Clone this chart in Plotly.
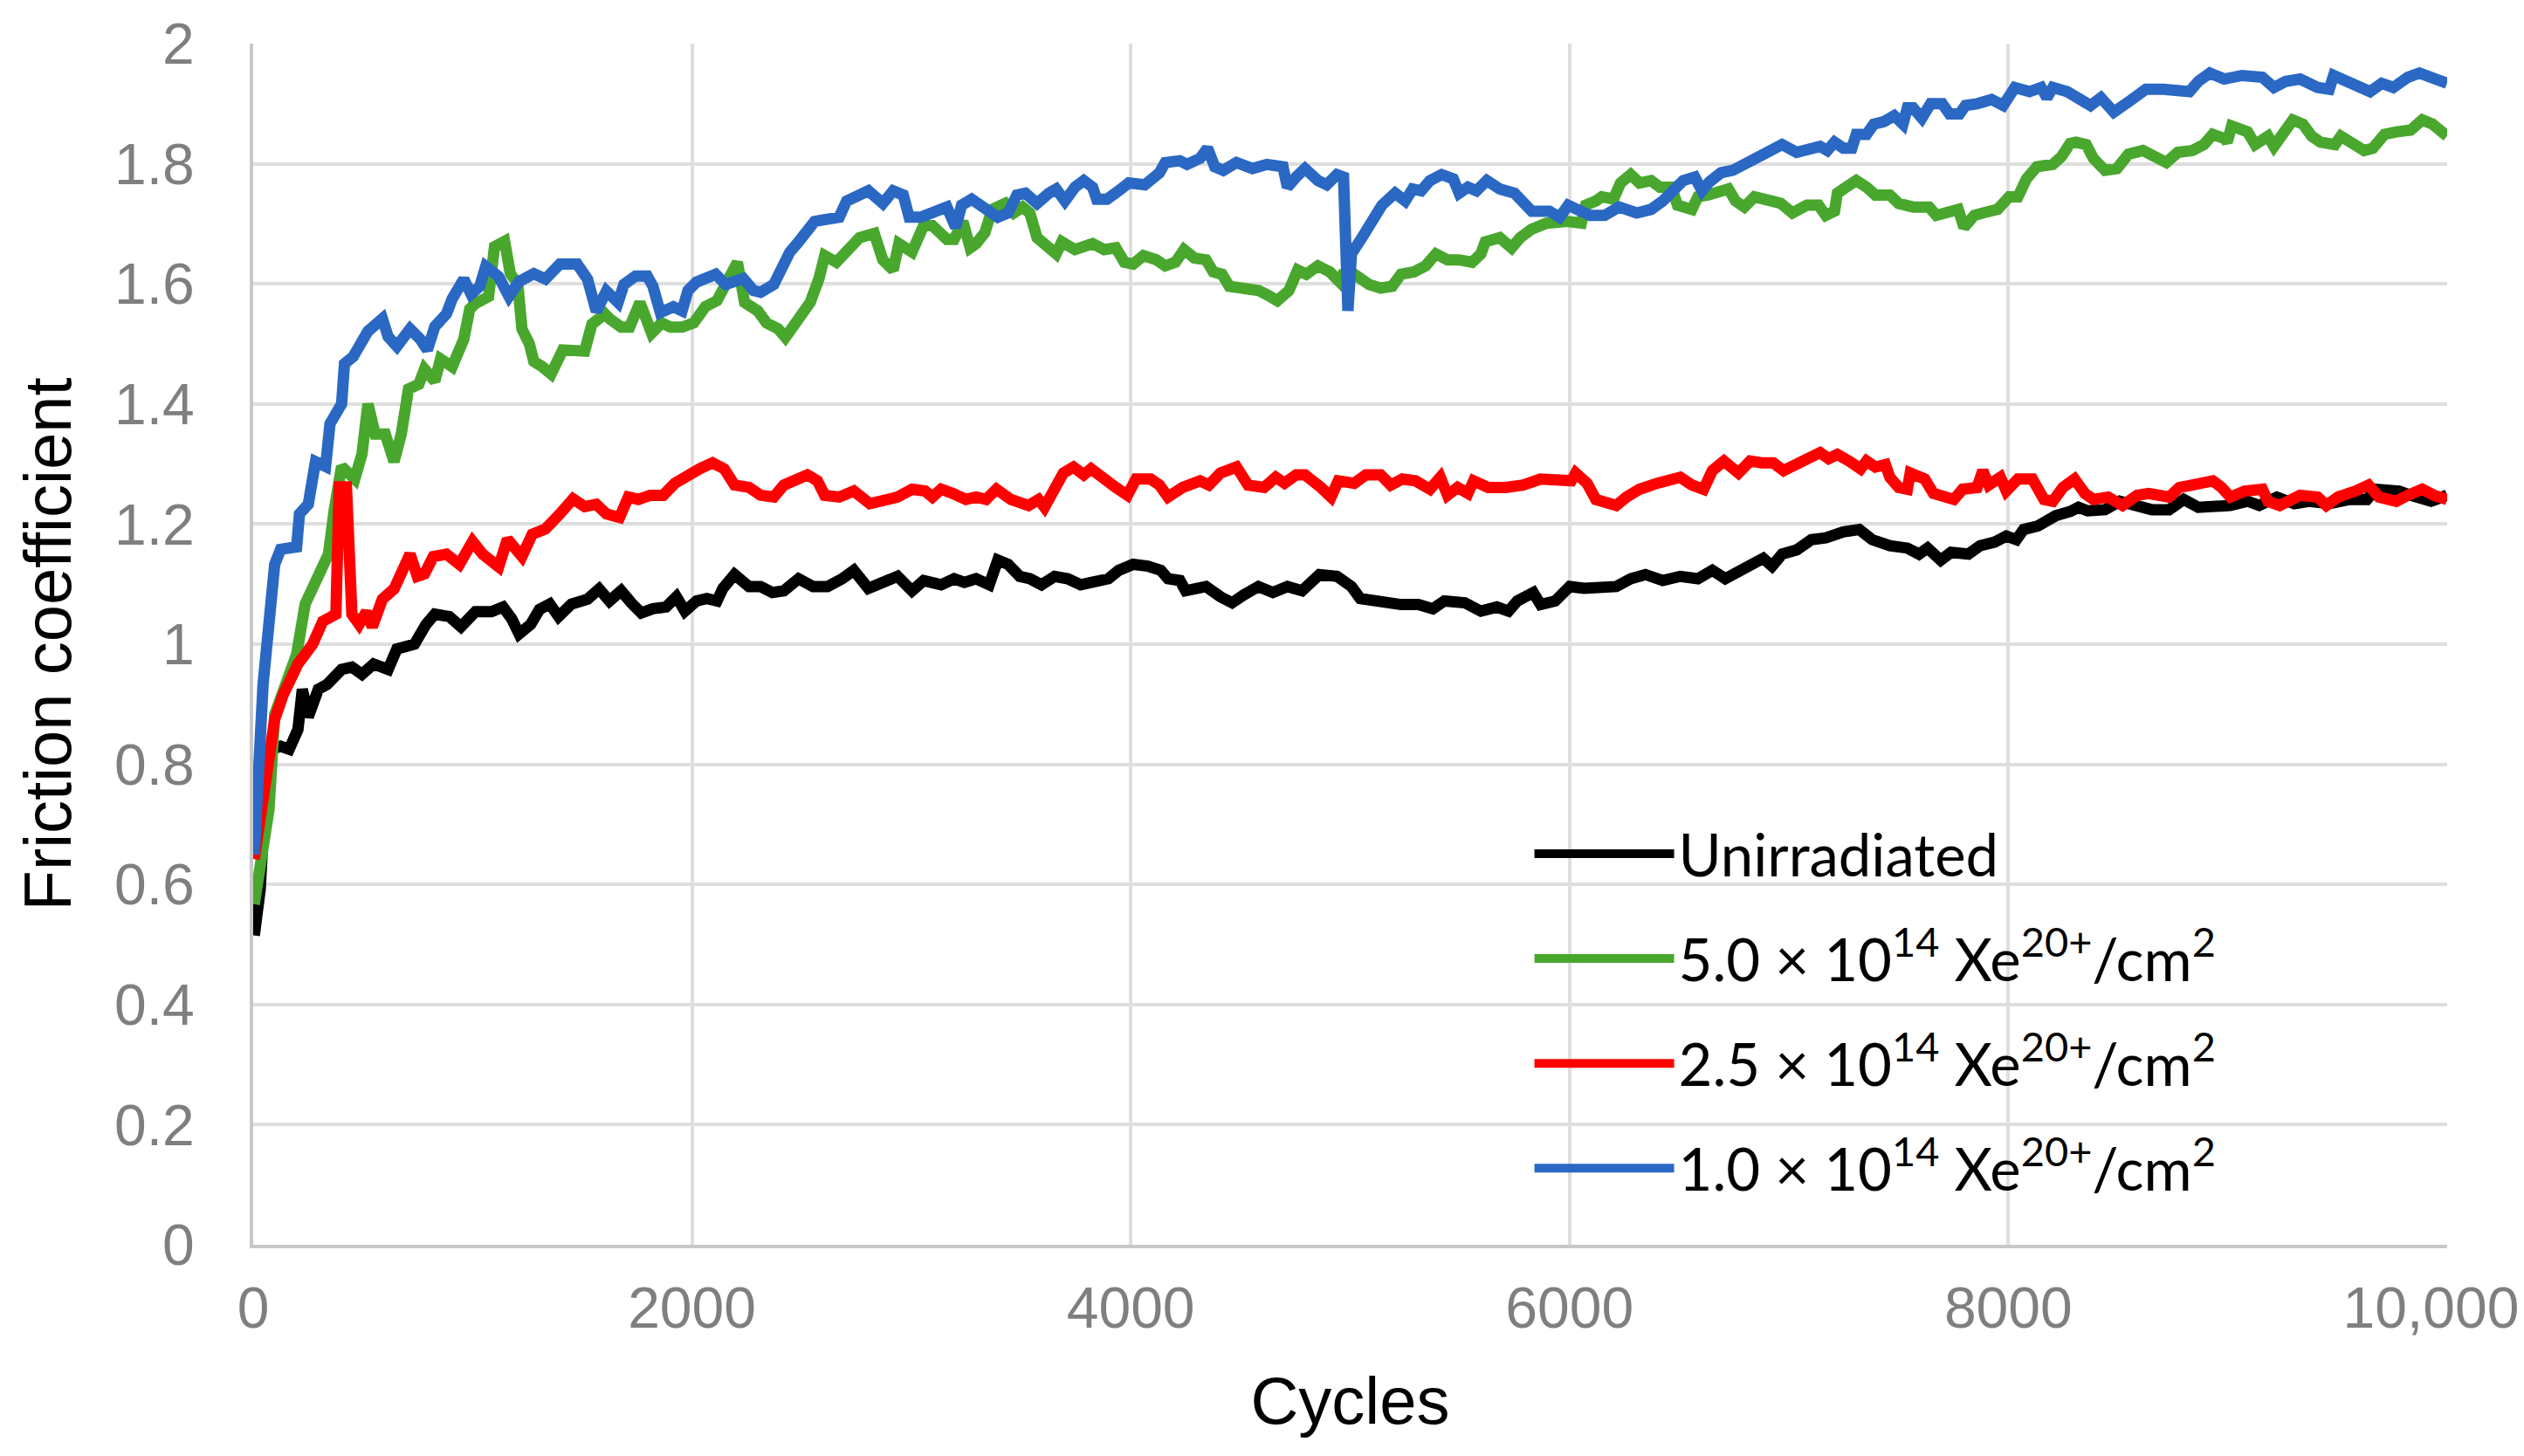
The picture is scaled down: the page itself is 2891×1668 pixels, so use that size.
import plotly.graph_objects as go

# ---------------- data ----------------
cyc_unirr = [5, 32, 58, 85, 125, 164, 204, 224, 251, 297, 337, 403, 450, 496, 549, 615, 655, 735, 788, 828,
             894, 947, 1013, 1086, 1139, 1179, 1212, 1265, 1305, 1352, 1392, 1451, 1524, 1577, 1624, 1677,
             1723, 1769, 1822, 1882, 1929, 1968, 2021, 2068, 2114, 2141, 2194, 2260, 2313, 2366, 2419, 2486,
             2552, 2618, 2685, 2738, 2804, 2857, 2937, 3003, 3056, 3136, 3195, 3242, 3295, 3355, 3394, 3441,
             3494, 3540, 3593, 3653, 3713, 3772, 3839, 3898, 3945, 4011, 4078, 4137, 4170, 4224, 4250, 4343,
             4409, 4462, 4515, 4582, 4648, 4714, 4781, 4860, 4940, 5006, 5046, 5099, 5165, 5232, 5311, 5377,
             5430, 5523, 5596, 5669, 5722, 5762, 5835, 5868, 5935, 6001, 6067, 6134, 6213, 6279, 6346, 6425,
             6505, 6585, 6651, 6710, 6770, 6836, 6883, 6923, 6969, 7035, 7102, 7168, 7248, 7321, 7380, 7460,
             7540, 7593, 7632, 7692, 7739, 7818, 7871, 7937, 7991, 8037, 8070, 8136, 8216, 8282, 8320, 8362,
             8441, 8508, 8587, 8654, 8733, 8800, 8866, 8945, 9012, 9091, 9144, 9224, 9304, 9370, 9463, 9556,
             9635, 9675, 9781, 9834, 9927, 10000]
mu_unirr = [0.515, 0.592, 0.767, 0.825, 0.83, 0.825, 0.858, 0.925, 0.879, 0.925, 0.933, 0.958, 0.962, 0.95,
            0.967, 0.958, 0.992, 1.0, 1.033, 1.05, 1.046, 1.029, 1.054, 1.054, 1.062, 1.042, 1.017, 1.033,
            1.058, 1.067, 1.046, 1.067, 1.075, 1.092, 1.072, 1.089, 1.069, 1.052, 1.059, 1.062, 1.079, 1.055,
            1.072, 1.076, 1.072, 1.093, 1.116, 1.096, 1.096, 1.086, 1.089, 1.109, 1.096, 1.096, 1.109, 1.123,
            1.093, 1.103, 1.113, 1.089, 1.106, 1.099, 1.109, 1.103, 1.109, 1.099, 1.140, 1.133, 1.113, 1.109,
            1.099, 1.113, 1.109, 1.099, 1.106, 1.109, 1.123, 1.133, 1.130, 1.123, 1.109, 1.106, 1.089, 1.096,
            1.079, 1.069, 1.082, 1.096, 1.086, 1.096, 1.089, 1.116, 1.113, 1.096, 1.076, 1.072, 1.069, 1.066,
            1.066, 1.059, 1.072, 1.069, 1.055, 1.062, 1.055, 1.072, 1.086, 1.066, 1.072, 1.096, 1.093, 1.096,
            1.096, 1.109, 1.116, 1.106, 1.113, 1.109, 1.123, 1.109, 1.120, 1.133, 1.143, 1.130, 1.150, 1.157,
            1.174, 1.177, 1.187, 1.191, 1.174, 1.164, 1.160, 1.150, 1.160, 1.140, 1.153, 1.150, 1.164, 1.170,
            1.180, 1.174, 1.191, 1.197, 1.214, 1.221, 1.228, 1.222, 1.224, 1.238, 1.231, 1.224, 1.224, 1.241,
            1.228, 1.228, 1.231, 1.238, 1.231, 1.245, 1.234, 1.238, 1.234, 1.241, 1.241, 1.258, 1.255, 1.248,
            1.238, 1.248]

cyc_50 = [5, 72, 98, 151, 198, 237, 284, 343, 370, 403, 463, 496, 523, 556, 602, 642, 675, 708, 755, 781,
          828, 854, 907, 960, 987, 1013, 1073, 1100, 1146, 1172, 1206, 1225, 1259, 1279, 1318, 1358, 1411,
          1451, 1511, 1544, 1603, 1624, 1677, 1716, 1763, 1816, 1862, 1902, 1955, 2008, 2061, 2114, 2154,
          2207, 2240, 2300, 2340, 2393, 2426, 2472, 2539, 2579, 2605, 2658, 2711, 2764, 2831, 2870, 2917,
          2943, 3003, 3056, 3096, 3162, 3195, 3235, 3268, 3295, 3335, 3368, 3428, 3467, 3507, 3540, 3573,
          3613, 3660, 3686, 3746, 3826, 3879, 3932, 3971, 4011, 4058, 4117, 4157, 4204, 4243, 4290, 4343,
          4376, 4416, 4449, 4515, 4582, 4621, 4668, 4721, 4761, 4800, 4853, 4907, 4953, 4966, 5019, 5086,
          5139, 5192, 5232, 5291, 5344, 5391, 5444, 5497, 5556, 5596, 5616, 5682, 5736, 5775, 5828, 5895,
          5988, 6054, 6074, 6120, 6147, 6200, 6233, 6279, 6319, 6372, 6412, 6465, 6492, 6558, 6585, 6631,
          6677, 6724, 6757, 6797, 6843, 6916, 6963, 7016, 7082, 7135, 7168, 7208, 7221, 7261, 7307, 7354,
          7394, 7460, 7500, 7566, 7639, 7672, 7725, 7772, 7798, 7845, 7884, 7951, 8004, 8044, 8083, 8130,
          8203, 8243, 8282, 8309, 8355, 8388, 8441, 8495, 8548, 8614, 8667, 8720, 8773, 8839, 8892, 8932,
          8985, 8998, 9018, 9065, 9091, 9125, 9184, 9211, 9251, 9297, 9343, 9383, 9423, 9489, 9516, 9569,
          9622, 9662, 9715, 9768, 9834, 9887, 9934, 10000]
mu_50 = [0.567, 0.725, 0.883, 0.942, 0.983, 1.067, 1.1, 1.15, 1.225, 1.296, 1.275, 1.317, 1.4, 1.35, 1.35,
         1.304, 1.35, 1.425, 1.433, 1.458, 1.438, 1.475, 1.462, 1.508, 1.558, 1.567, 1.579, 1.662, 1.671,
         1.617, 1.6, 1.525, 1.5, 1.471, 1.462, 1.45, 1.49, 1.49, 1.488, 1.533, 1.55, 1.542, 1.528, 1.528,
         1.569, 1.518, 1.535, 1.528, 1.528, 1.535, 1.562, 1.572, 1.599, 1.636, 1.569, 1.555, 1.535, 1.525,
         1.511, 1.532, 1.569, 1.609, 1.647, 1.636, 1.660, 1.677, 1.684, 1.640, 1.623, 1.667, 1.653, 1.697,
         1.697, 1.674, 1.674, 1.704, 1.660, 1.667, 1.685, 1.724, 1.734, 1.718, 1.728, 1.718, 1.677, 1.667,
         1.650, 1.670, 1.657, 1.667, 1.657, 1.660, 1.636, 1.633, 1.647, 1.640, 1.630, 1.636, 1.657, 1.643,
         1.640, 1.620, 1.616, 1.596, 1.593, 1.589, 1.582, 1.572, 1.589, 1.623, 1.616, 1.630, 1.620, 1.603,
         1.615, 1.616, 1.599, 1.593, 1.596, 1.616, 1.620, 1.630, 1.650, 1.640, 1.640, 1.636, 1.650, 1.670,
         1.677, 1.660, 1.677, 1.691, 1.701, 1.704, 1.701, 1.731, 1.738, 1.745, 1.741, 1.768, 1.782, 1.768,
         1.772, 1.761, 1.761, 1.731, 1.724, 1.745, 1.748, 1.755, 1.758, 1.738, 1.728, 1.745, 1.738, 1.734,
         1.718, 1.731, 1.731, 1.714, 1.721, 1.751, 1.761, 1.772, 1.761, 1.748, 1.748, 1.734, 1.728, 1.728,
         1.714, 1.718, 1.724, 1.694, 1.714, 1.718, 1.724, 1.745, 1.745, 1.775, 1.795, 1.799, 1.812, 1.834,
         1.836, 1.832, 1.809, 1.789, 1.792, 1.816, 1.822, 1.812, 1.802, 1.819, 1.822, 1.832, 1.849, 1.842,
         1.836, 1.863, 1.856, 1.853, 1.832, 1.846, 1.829, 1.853, 1.873, 1.866, 1.846, 1.836, 1.832, 1.846,
         1.836, 1.822, 1.826, 1.849, 1.853, 1.856, 1.873, 1.866, 1.846]

cyc_25 = [5, 52, 98, 138, 204, 271, 317, 377, 392, 425, 450, 483, 516, 543, 589, 642, 682, 715, 748, 781,
          821, 881, 940, 1000, 1046, 1119, 1159, 1225, 1272, 1332, 1398, 1458, 1511, 1564, 1610, 1670, 1710,
          1756, 1809, 1869, 1922, 1982, 2035, 2094, 2147, 2194, 2260, 2313, 2373, 2419, 2472, 2526, 2572,
          2605, 2671, 2738, 2811, 2877, 2937, 3003, 3063, 3096, 3136, 3189, 3249, 3295, 3341, 3388, 3454,
          3534, 3580, 3607, 3653, 3693, 3739, 3786, 3819, 3865, 3932, 3985, 4024, 4091, 4131, 4170, 4237,
          4316, 4356, 4409, 4482, 4535, 4608, 4661, 4701, 4754, 4794, 4867, 4913, 4946, 5019, 5072, 5139,
          5185, 5238, 5298, 5364, 5411, 5444, 5490, 5537, 5563, 5629, 5709, 5789, 5868, 5948, 6008, 6028,
          6080, 6120, 6167, 6213, 6260, 6319, 6399, 6452, 6505, 6558, 6611, 6651, 6704, 6770, 6823, 6876,
          6929, 6976, 7035, 7089, 7142, 7181, 7221, 7274, 7327, 7354, 7394, 7440, 7460, 7500, 7540, 7553,
          7619, 7659, 7699, 7752, 7792, 7858, 7884, 7911, 7964, 7991, 8044, 8110, 8163, 8203, 8249, 8302,
          8349, 8388, 8455, 8521, 8587, 8640, 8733, 8780, 8839, 8932, 8972, 9012, 9078, 9158, 9184, 9237,
          9330, 9410, 9450, 9503, 9582, 9642, 9689, 9768, 9821, 9887, 9940, 10000]
mu_25 = [0.642, 0.754, 0.875, 0.917, 0.967, 1.0, 1.038, 1.05, 1.262, 1.262, 1.05, 1.033, 1.054, 1.029,
         1.075, 1.092, 1.121, 1.15, 1.113, 1.117, 1.146, 1.15, 1.133, 1.171, 1.15, 1.129, 1.175, 1.146,
         1.183, 1.192, 1.217, 1.242, 1.229, 1.233, 1.217, 1.211, 1.245, 1.241, 1.248, 1.248, 1.268, 1.278,
         1.292, 1.302, 1.292, 1.265, 1.261, 1.248, 1.245, 1.265, 1.275, 1.282, 1.272, 1.248, 1.245, 1.255,
         1.234, 1.238, 1.245, 1.258, 1.255, 1.245, 1.258, 1.251, 1.241, 1.245, 1.241, 1.258, 1.241, 1.231,
         1.241, 1.228, 1.258, 1.285, 1.295, 1.282, 1.292, 1.278, 1.261, 1.248, 1.275, 1.275, 1.265, 1.245,
         1.261, 1.272, 1.265, 1.285, 1.295, 1.265, 1.261, 1.278, 1.268, 1.282, 1.282, 1.261, 1.245, 1.272,
         1.268, 1.282, 1.282, 1.265, 1.275, 1.272, 1.258, 1.278, 1.248, 1.261, 1.251, 1.272, 1.261, 1.261,
         1.265, 1.275, 1.272, 1.272, 1.285, 1.268, 1.241, 1.238, 1.231, 1.245, 1.258, 1.268, 1.272, 1.278,
         1.265, 1.258, 1.289, 1.305, 1.285, 1.305, 1.302, 1.302, 1.289, 1.299, 1.305, 1.319, 1.309, 1.316,
         1.305, 1.292, 1.305, 1.295, 1.299, 1.278, 1.261, 1.258, 1.285, 1.275, 1.251, 1.245, 1.241, 1.258,
         1.261, 1.289, 1.265, 1.278, 1.255, 1.275, 1.275, 1.241, 1.238, 1.261, 1.275, 1.251, 1.241, 1.245,
         1.231, 1.248, 1.251, 1.245, 1.261, 1.265, 1.272, 1.261, 1.245, 1.255, 1.258, 1.238, 1.231, 1.248,
         1.245, 1.231, 1.245, 1.255, 1.265, 1.245, 1.238, 1.248, 1.258, 1.248, 1.241]

cyc_10 = [5, 45, 98, 125, 198, 211, 251, 284, 330, 350, 403, 416, 456, 523, 589, 615, 655, 715, 761, 794,
          828, 881, 907, 960, 993, 1033, 1060, 1119, 1166, 1212, 1279, 1332, 1398, 1477, 1524, 1564, 1610,
          1663, 1690, 1743, 1796, 1822, 1856, 1915, 1955, 1982, 2021, 2061, 2108, 2154, 2234, 2280, 2313,
          2373, 2406, 2446, 2486, 2539, 2559, 2605, 2671, 2705, 2751, 2804, 2870, 2917, 2963, 2990, 3043,
          3096, 3162, 3202, 3229, 3275, 3335, 3394, 3441, 3481, 3520, 3573, 3627, 3660, 3700, 3746, 3786,
          3826, 3845, 3892, 3945, 3991, 4064, 4131, 4157, 4224, 4257, 4316, 4350, 4383, 4422, 4482, 4555,
          4621, 4694, 4714, 4754, 4794, 4853, 4893, 4940, 4970, 4990, 5006, 5059, 5099, 5145, 5205, 5251,
          5285, 5324, 5364, 5417, 5470, 5497, 5537, 5576, 5623, 5682, 5749, 5802, 5828, 5908, 5955, 5994,
          6041, 6094, 6160, 6226, 6306, 6372, 6425, 6478, 6518, 6571, 6604, 6638, 6691, 6744, 6797, 6850,
          6903, 6969, 7035, 7089, 7142, 7175, 7208, 7248, 7287, 7307, 7354, 7387, 7433, 7480, 7520, 7540,
          7566, 7606, 7646, 7699, 7732, 7778, 7805, 7858, 7924, 7977, 8030, 8097, 8150, 8176, 8203, 8269,
          8309, 8375, 8422, 8481, 8548, 8627, 8707, 8786, 8826, 8866, 8919, 8985, 9065, 9158, 9211, 9264,
          9330, 9410, 9463, 9483, 9542, 9596, 9649, 9702, 9755, 9821, 9874, 9927, 10000]
mu_10 = [0.65, 0.933, 1.133, 1.158, 1.162, 1.217, 1.233, 1.304, 1.296, 1.367, 1.4, 1.467, 1.479, 1.521,
         1.542, 1.512, 1.496, 1.525, 1.508, 1.49, 1.529, 1.55, 1.575, 1.608, 1.583, 1.596, 1.629, 1.612,
         1.579, 1.604, 1.617, 1.608, 1.633, 1.633, 1.608, 1.554, 1.588, 1.569, 1.599, 1.613, 1.613, 1.596,
         1.552, 1.562, 1.555, 1.589, 1.603, 1.609, 1.616, 1.599, 1.609, 1.589, 1.586, 1.599, 1.626, 1.653,
         1.670, 1.691, 1.704, 1.707, 1.711, 1.738, 1.745, 1.755, 1.734, 1.755, 1.748, 1.711, 1.711, 1.718,
         1.728, 1.694, 1.731, 1.741, 1.724, 1.711, 1.718, 1.748, 1.751, 1.734, 1.751, 1.758, 1.738, 1.761,
         1.772, 1.761, 1.741, 1.741, 1.755, 1.768, 1.765, 1.785, 1.802, 1.805, 1.799, 1.809, 1.826, 1.795,
         1.789, 1.802, 1.792, 1.799, 1.795, 1.761, 1.778, 1.792, 1.772, 1.765, 1.782, 1.778, 1.555, 1.650,
         1.680, 1.701, 1.731, 1.751, 1.738, 1.758, 1.755, 1.772, 1.782, 1.775, 1.751, 1.761, 1.755, 1.772,
         1.758, 1.751, 1.731, 1.721, 1.721, 1.711, 1.731, 1.721, 1.714, 1.714, 1.728, 1.718, 1.724, 1.738,
         1.758, 1.772, 1.778, 1.755, 1.770, 1.785, 1.789, 1.799, 1.812, 1.819, 1.832, 1.819, 1.822, 1.829,
         1.822, 1.836, 1.826, 1.826, 1.849, 1.849, 1.866, 1.870, 1.880, 1.866, 1.893, 1.893, 1.876, 1.900,
         1.900, 1.883, 1.883, 1.897, 1.900, 1.907, 1.897, 1.927, 1.920, 1.927, 1.910, 1.927, 1.920, 1.912,
         1.897, 1.910, 1.886, 1.903, 1.924, 1.924, 1.924, 1.920, 1.937, 1.951, 1.941, 1.947, 1.944, 1.927,
         1.937, 1.941, 1.927, 1.924, 1.947, 1.937, 1.930, 1.920, 1.934, 1.927, 1.944, 1.951, 1.944, 1.934]

series_names = ["Unirradiated",
                "5.0 × 10<sup>14</sup> Xe<sup>20+</sup>/cm<sup>2</sup>",
                "2.5 × 10<sup>14</sup> Xe<sup>20+</sup>/cm<sup>2</sup>",
                "1.0 × 10<sup>14</sup> Xe<sup>20+</sup>/cm<sup>2</sup>"]
series_colors = ["#000000", "#49a72e", "#ff0000", "#2a68c4"]

x_tickvals = [0, 2000, 4000, 6000, 8000, 10000]
x_ticktext = ["0", "2000", "4000", "6000", "8000", "10,000\u00a0\u00a0"]

# ---------------- figure ----------------
fig = go.Figure()
all_x = [cyc_unirr, cyc_50, cyc_25, cyc_10]
all_y = [mu_unirr, mu_50, mu_25, mu_10]
for i in range(4):
    fig.add_trace(go.Scatter(
        x=all_x[i], y=all_y[i], mode="lines", name=series_names[i],
        legendgroup="g%d" % i,
        line=dict(color=series_colors[i], width=13, shape="linear"),
    ))

W, H = 2891, 1668
ml, mr, mt, mb = 282, 96, 42, 250

grid_c = "#dedede"
axis_c = "#c8c8c8"
tick_font = dict(family="Liberation Sans, Arial", size=66, color="#7f7f7f")
title_font = dict(family="Liberation Sans, Arial", size=76, color="#000000")

fig.update_layout(
    width=W, height=H,
    margin=dict(l=ml, r=mr, t=mt, b=mb, autoexpand=False),
    paper_bgcolor="white", plot_bgcolor="white",
    showlegend=True,
    legend=dict(
        x=0.582, y=0.362, xanchor="left", yanchor="top",
        bgcolor="rgba(255,255,255,0)", borderwidth=0,
        font=dict(family="Lato", size=67, color="#000000"),
        itemwidth=160, tracegroupgap=30, valign="middle",
    ),
    shapes=[dict(type="rect", xref="paper", yref="paper",
                 x0=0.48, x1=0.998, y0=0.0125, y1=0.3605,
                 fillcolor="white", line=dict(width=0), layer="between")],
)

fig.update_xaxes(
    range=[0, 10000.5], tickvals=x_tickvals, ticktext=x_ticktext,
    showgrid=True, gridcolor=grid_c, gridwidth=4,
    showline=True, linecolor=axis_c, linewidth=4, zeroline=False,
    ticks="", ticklabelstandoff=12, ticklabeloverflow="allow", tickfont=tick_font,
    title=dict(text="Cycles", font=title_font, standoff=45),
    automargin=False,
)
fig.update_yaxes(
    range=[0, 2], tick0=0, dtick=0.2,
    showgrid=True, gridcolor=grid_c, gridwidth=4,
    showline=True, linecolor=axis_c, linewidth=4, zeroline=False,
    ticks="", ticklabelstandoff=50, tickfont=tick_font,
    title=dict(text="Friction coefficient", font=title_font, standoff=25),
    automargin=False,
)

fig.write_html("out.html")
